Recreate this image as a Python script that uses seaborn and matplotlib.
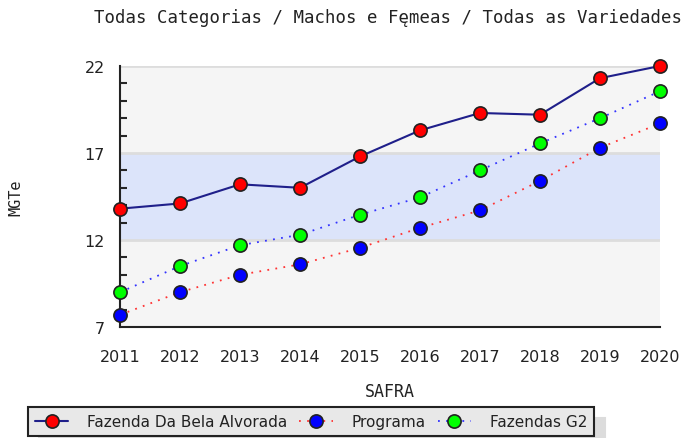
import numpy as np
import pandas as pd
import matplotlib
matplotlib.use("Agg")
import matplotlib.pyplot as plt
import seaborn as sns
from matplotlib.ticker import MultipleLocator

# data
years = [2011, 2012, 2013, 2014, 2015, 2016, 2017, 2018, 2019, 2020]
fazenda = [13.8, 14.1, 15.2, 15.0, 16.8, 18.3, 19.3, 19.2, 21.3, 22.0]
programa = [7.7, 9.0, 10.0, 10.6, 11.55, 12.7, 13.7, 15.4, 17.3, 18.7]
g2 = [9.0, 10.5, 11.7, 12.3, 13.45, 14.45, 16.0, 17.55, 19.0, 20.55]

df = pd.DataFrame({"SAFRA": years, "Fazenda Da Bela Alvorada": fazenda,
                   "Programa": programa, "Fazendas G2": g2})

sns.set_style("white")
plt.rcParams['font.family'] = ['DejaVu Sans']

fig = plt.figure(figsize=(6.95, 4.39), dpi=100)
ax = fig.add_axes([120 / 695, 1 - 328 / 439, 540 / 695, 261 / 439])
ax.set_facecolor("#f5f5f5")
ax.axhspan(12, 17, color="#dce4fa", zorder=0)
for yv in [12, 17, 22]:
    ax.axhline(yv, color="#dddddd", lw=2, zorder=0.5)

styles = [
    ("Fazenda Da Bela Alvorada", "#1f1f8a", "-", 1.5, "#ff0000"),
    ("Programa", "#ff3333", (0, (1, 3.5)), 1.3, "#0000ff"),
    ("Fazendas G2", "#3333ff", (0, (1, 3.5)), 1.3, "#00ff00"),
]
for name, lc, ls, lw, mc in styles:
    sns.lineplot(data=df, x="SAFRA", y=name, ax=ax, color=lc, linestyle=ls, lw=lw,
                 marker="o", markersize=9.5, markerfacecolor=mc, markeredgecolor="#222222",
                 markeredgewidth=1.2, label=name, clip_on=False, zorder=3, legend=False)

ax.set_xlim(2011, 2020)
ax.set_ylim(7, 22)
ax.set_xticks(years)
ax.set_yticks([7, 12, 17, 22])
ax.yaxis.set_minor_locator(MultipleLocator(1))
ax.tick_params(axis="y", which="major", direction="in", length=9, width=1.5, labelsize=11.5,
               pad=11, labelcolor="#222222")
ax.tick_params(axis="y", which="minor", direction="in", length=5, width=1.5, left=True)
ax.tick_params(axis="x", direction="in", length=8, width=1.5, labelsize=11.5, pad=16,
               labelcolor="#222222")
for s in ["top", "right"]:
    ax.spines[s].set_visible(False)
for s in ["left", "bottom"]:
    ax.spines[s].set_color("#222222")
    ax.spines[s].set_linewidth(1.5)

ax.set_xlabel("SAFRA", fontsize=12, family="DejaVu Sans Mono", labelpad=13, color="#222222")
ax.set_ylabel("MGTe", fontsize=11, family="DejaVu Sans Mono", labelpad=44, color="#222222")
fig.text(388 / 695, 1 - 18 / 439, "Todas Categorias / Machos e Fęmeas / Todas as Variedades",
         ha="center", va="center", fontsize=12.5, family="DejaVu Sans Mono", color="#222222")

handles, labels = ax.get_legend_handles_labels()
leg = fig.legend(handles, labels, ncol=3, loc="lower left",
                 bbox_to_anchor=(28 / 695, 2 / 439), frameon=True, fancybox=False,
                 shadow={"color": "#dcdcdc", "alpha": 1, "ox": 8, "oy": -8},
                 fontsize=11, handlelength=2.2, borderaxespad=0, columnspacing=0.8,
                 handletextpad=1.2, borderpad=0.45)
leg.get_frame().set_facecolor("#e8e8e8")
leg.get_frame().set_edgecolor("#222222")
leg.get_frame().set_linewidth(1.5)
for t in leg.get_texts():
    t.set_color("#222222")

fig.savefig("out.png", dpi=100)
